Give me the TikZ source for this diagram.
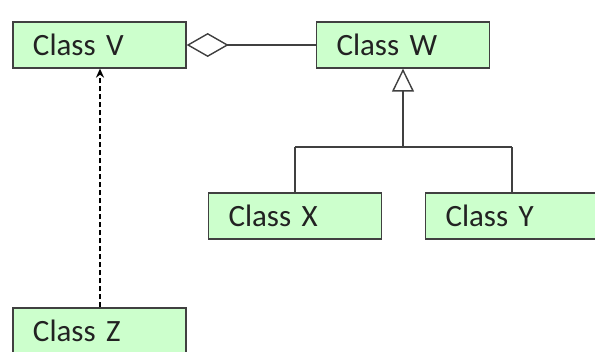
\documentclass[tikz,border=0pt]{standalone}
\usepackage{fontspec}
\setmainfont{Carlito}
\usepackage{tikz}
\usetikzlibrary{arrows.meta,positioning}

\definecolor{boxgreen}{RGB}{204,255,204}
\definecolor{boxline}{RGB}{64,64,64}
\definecolor{textgrey}{RGB}{34,34,34}

\tikzset{
  cls/.style={rectangle, draw=boxline, fill=boxgreen, line width=1.3pt,
              minimum height=46pt, text width=133pt, inner xsep=20pt,
              align=left, text=textgrey, font=\fontsize{31}{36}\selectfont},
  conn/.style={draw=boxline, line width=1.4pt},
  dep/.style={draw=black, line width=2pt, dash pattern=on 5pt off 3pt}
}

\begin{document}
\begin{tikzpicture}[node distance=2cm,on grid]
   \useasboundingbox (-99.5pt,45pt) rectangle (495.5pt,-307pt);
   \clip (-99.5pt,45pt) rectangle (495.5pt,-307pt);

   \node[cls] (cv) at (0,0)                      {Class V};
   \node[cls] (cw) [right=303.5pt of cv]         {Class W};
   \node[cls] (cx) [below left=171pt and 108pt of cw] {Class X};
   \node[cls] (cy) [right=217pt of cx]           {Class Y};
   \node[cls] (cz) [below=286pt of cv]           {Class Z};
   \coordinate[below=102pt of cw] (jn);

   \path[conn]
    (cv) edge[{Diamond[open,fill=white,length=42pt,width=24pt]}-] (cw)
    (jn) edge[-{Triangle[open,fill=white,length=23pt,width=22pt]}] (cw)
    (cx) edge[-] (cx |- jn)
    (cy) edge[-] (cy |- jn)
    (cx |- jn) edge[-] (cy |- jn);
   \draw[dep, -{Stealth[length=9pt,width=8pt]}] ([xshift=0.5pt]cz.north) -- ([xshift=0.5pt]cv.south);
\end{tikzpicture}
\end{document}
